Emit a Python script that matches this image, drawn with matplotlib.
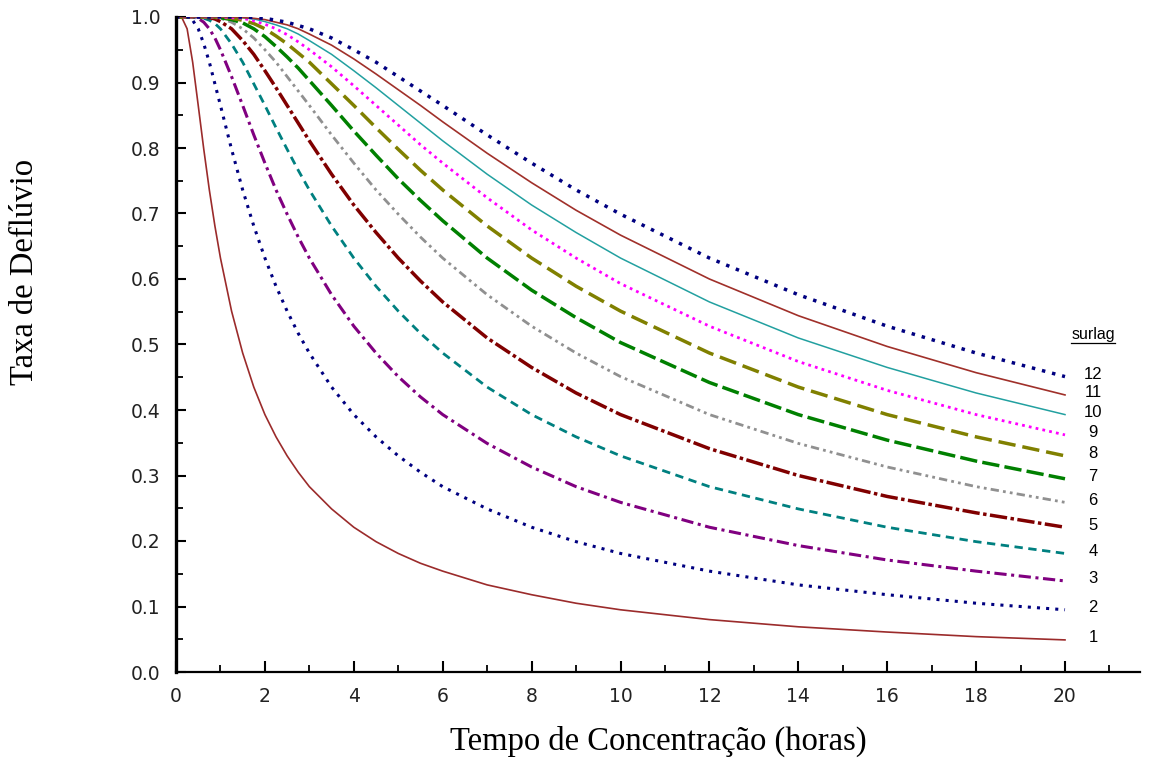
import numpy as np
import matplotlib.pyplot as plt
from matplotlib.ticker import MultipleLocator
from matplotlib.lines import Line2D

# tempo de concentracao (horas)
tempo = [0, 0.125, 0.25, 0.375, 0.5, 0.625, 0.75, 0.875, 1, 1.25, 1.5, 1.75, 2, 2.25, 2.5, 2.75,
         3, 3.5, 4, 4.5, 5, 5.5, 6, 7, 8, 9, 10, 12, 14, 16, 18, 20]

# taxa de defluvio, uma curva por surlag
taxa_1 = [1.0, 1.000, 0.982, 0.931, 0.865, 0.798, 0.736, 0.681, 0.632, 0.551, 0.487, 0.435, 0.393, 0.359, 0.330, 0.305,
          0.283, 0.249, 0.221, 0.199, 0.181, 0.166, 0.154, 0.133, 0.118, 0.105, 0.095, 0.080, 0.069, 0.061, 0.054, 0.049]
taxa_2 = [1.0, 1.000, 1.000, 0.995, 0.982, 0.959, 0.931, 0.898, 0.865, 0.798, 0.736, 0.681, 0.632, 0.589, 0.551, 0.517,
          0.487, 0.435, 0.393, 0.359, 0.330, 0.305, 0.283, 0.249, 0.221, 0.199, 0.181, 0.154, 0.133, 0.118, 0.105, 0.095]
taxa_3 = [1.0, 1.000, 1.000, 1.000, 0.998, 0.992, 0.982, 0.968, 0.950, 0.909, 0.865, 0.820, 0.777, 0.736, 0.699, 0.664,
          0.632, 0.576, 0.528, 0.487, 0.451, 0.420, 0.393, 0.349, 0.313, 0.283, 0.259, 0.221, 0.193, 0.171, 0.154, 0.139]
taxa_4 = [1.0, 1.000, 1.000, 1.000, 1.000, 0.998, 0.995, 0.990, 0.982, 0.959, 0.931, 0.898, 0.865, 0.831, 0.798, 0.766,
          0.736, 0.681, 0.632, 0.589, 0.551, 0.517, 0.487, 0.435, 0.393, 0.359, 0.330, 0.283, 0.249, 0.221, 0.199, 0.181]
taxa_5 = [1.0, 1.000, 1.000, 1.000, 1.000, 1.000, 0.999, 0.997, 0.993, 0.982, 0.964, 0.943, 0.918, 0.892, 0.865, 0.838,
          0.811, 0.760, 0.713, 0.671, 0.632, 0.597, 0.565, 0.510, 0.465, 0.426, 0.393, 0.341, 0.300, 0.268, 0.243, 0.221]
taxa_6 = [1.0, 1.000, 1.000, 1.000, 1.000, 1.000, 1.000, 0.999, 0.998, 0.992, 0.982, 0.968, 0.950, 0.931, 0.909, 0.887,
          0.865, 0.820, 0.777, 0.736, 0.699, 0.664, 0.632, 0.576, 0.528, 0.487, 0.451, 0.393, 0.349, 0.313, 0.283, 0.259]
taxa_7 = [1.0, 1.000, 1.000, 1.000, 1.000, 1.000, 1.000, 1.000, 0.999, 0.996, 0.991, 0.982, 0.970, 0.955, 0.939, 0.922,
          0.903, 0.865, 0.826, 0.789, 0.753, 0.720, 0.689, 0.632, 0.583, 0.541, 0.503, 0.442, 0.393, 0.354, 0.322, 0.295]
taxa_8 = [1.0, 1.000, 1.000, 1.000, 1.000, 1.000, 1.000, 1.000, 1.000, 0.998, 0.995, 0.990, 0.982, 0.971, 0.959, 0.945,
          0.931, 0.898, 0.865, 0.831, 0.798, 0.766, 0.736, 0.681, 0.632, 0.589, 0.551, 0.487, 0.435, 0.393, 0.359, 0.330]
taxa_9 = [1.0, 1.000, 1.000, 1.000, 1.000, 1.000, 1.000, 1.000, 1.000, 0.999, 0.998, 0.994, 0.989, 0.982, 0.973, 0.962,
          0.950, 0.924, 0.895, 0.865, 0.835, 0.805, 0.777, 0.724, 0.675, 0.632, 0.593, 0.528, 0.474, 0.430, 0.393, 0.362]
taxa_10 = [1.0, 1.000, 1.000, 1.000, 1.000, 1.000, 1.000, 1.000, 1.000, 1.000, 0.999, 0.997, 0.993, 0.988, 0.982, 0.974,
           0.964, 0.943, 0.918, 0.892, 0.865, 0.838, 0.811, 0.760, 0.713, 0.671, 0.632, 0.565, 0.510, 0.465, 0.426, 0.393]
taxa_11 = [1.0, 1.000, 1.000, 1.000, 1.000, 1.000, 1.000, 1.000, 1.000, 1.000, 0.999, 0.998, 0.996, 0.992, 0.988, 0.982,
           0.974, 0.957, 0.936, 0.913, 0.889, 0.865, 0.840, 0.792, 0.747, 0.705, 0.667, 0.600, 0.544, 0.497, 0.457, 0.423]
taxa_12 = [1.0, 1.000, 1.000, 1.000, 1.000, 1.000, 1.000, 1.000, 1.000, 1.000, 1.000, 0.999, 0.998, 0.995, 0.992, 0.987,
           0.982, 0.968, 0.950, 0.931, 0.909, 0.887, 0.865, 0.820, 0.777, 0.736, 0.699, 0.632, 0.576, 0.528, 0.487, 0.451]

surlag = [1, 2, 3, 4, 5, 6, 7, 8, 9, 10, 11, 12]
curvas = [taxa_1, taxa_2, taxa_3, taxa_4, taxa_5, taxa_6,
          taxa_7, taxa_8, taxa_9, taxa_10, taxa_11, taxa_12]

cores = ['#9b2b2b', '#000080', '#800080', '#008080', '#800000', '#909090',
         '#008000', '#808000', '#ff00ff', '#22a0a0', '#a0302a', '#000080']
estilos = ['-', (0, (1, 2)), (0, (4, 1.5, 1, 1.5)), (0, (3, 2)), (0, (5, 1, 1, 1)),
           (0, (3, 1.5, 1, 1.5, 1, 1.5)), (0, (5, 1.5)), (0, (5, 2)), (0, (1, 1.5)),
           '-', '-', (0, (1, 2))]
larguras = [1.2, 2.2, 2.2, 2.0, 2.5, 2.0, 2.5, 2.5, 2.0, 1.1, 1.2, 2.5]

fig = plt.figure(figsize=(11.51, 7.58), dpi=100)
ax = fig.add_axes([176/1151, 86/758, 964/1151, 655/758])

for i in range(len(surlag)):
    ax.plot(tempo, curvas[i], color=cores[i], linestyle=estilos[i], linewidth=larguras[i])
    ax.text(20.63, curvas[i][-1] + 0.003, str(surlag[i]), fontsize=12,
            family='Liberation Sans', ha='center', va='center')

t = ax.text(20.63, 0.516, 'surlag', fontsize=11.5, family='Liberation Sans',
            ha='center', va='center')

ax.set_xlim(0, 964/44.45)
ax.set_ylim(0, 1.0)
ax.xaxis.set_major_locator(MultipleLocator(2))
ax.xaxis.set_minor_locator(MultipleLocator(1))
ax.yaxis.set_major_locator(MultipleLocator(0.1))
ax.yaxis.set_minor_locator(MultipleLocator(0.05))
ax.set_xticks(np.arange(0, 21, 2))
ax.set_yticklabels(['%.1f' % v for v in ax.get_yticks()])

ax.spines['top'].set_visible(False)
ax.spines['right'].set_visible(False)
ax.spines['left'].set_linewidth(2.4)
ax.spines['bottom'].set_linewidth(1.6)

ax.tick_params(axis='both', which='major', direction='in', width=1.5, labelsize=13.5)
ax.tick_params(axis='x', which='major', length=8, pad=11)
ax.tick_params(axis='y', which='major', length=7, pad=11)
ax.tick_params(axis='both', which='minor', direction='in', width=1.3, length=5)
for lab in ax.get_xticklabels() + ax.get_yticklabels():
    lab.set_family('DejaVu Sans')
    lab.set_color('#222222')

fig.text(658/1151, 1 - 741/758, 'Tempo de Concentração (horas)', fontsize=23.5,
         family='Liberation Serif', ha='center', va='center')
fig.text(25/1151, 1 - 272/758, 'Taxa de Deflúvio', fontsize=23.5,
         family='Liberation Serif', ha='center', va='center', rotation=90)

# sublinhado do "surlag"
fig.canvas.draw()
bb = t.get_window_extent()
fig.add_artist(Line2D([bb.x0 / 1151, bb.x1 / 1151], [(bb.y0 - 1) / 758, (bb.y0 - 1) / 758],
                      transform=fig.transFigure, color='black', linewidth=0.9))

fig.savefig('out.png', dpi=100)
